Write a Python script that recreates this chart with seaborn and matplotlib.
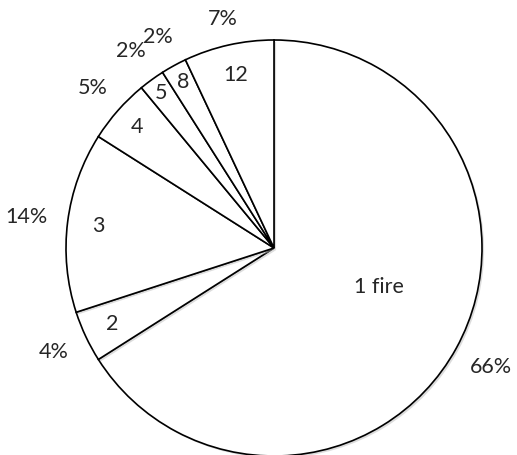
import numpy as np
import matplotlib
matplotlib.use("Agg")
import matplotlib.pyplot as plt
import matplotlib.patheffects as pe
import seaborn as sns

categories = ["1 fire", "2", "3", "4", "5", "8", "12"]
percent = [66, 4, 14, 5, 2, 2, 7]
pct_labels = ["66%", "4%", "14%", "5%", "2%", "2%", "7%"]

# label placement (styling)
inner_r = [0.54, 0.86, 0.85, 0.88, 0.92, 0.91, 0.85]
inner_shift = [8.4, 0, 0, 0, 0, 0, 0]
outer_r = [1.19, 1.17, 1.20, 1.16, 1.17, 1.16, 1.13]

sns.set_theme(style="white")
plt.rcParams['font.family'] = ['Lato', 'DejaVu Sans']

fig = plt.figure(figsize=(5.17, 4.55), dpi=100)
W, H = 517, 455
cx, cy, R = 274, 248, 208
ax = fig.add_axes([(cx - R) / W, (H - cy - R) / H, 2 * R / W, 2 * R / H])

wedges, _ = ax.pie(percent, startangle=90, counterclock=False, radius=1.0,
                   colors=["white"] * len(percent),
                   wedgeprops=dict(edgecolor="black", linewidth=1.2))
for w in wedges:
    w.set_path_effects([pe.SimplePatchShadow(offset=(1.5, -1.5), shadow_rgbFace="#bbbbbb", alpha=0.5), pe.Normal()])

fs = 15.5
for w, cat, pl, ri, sh, ro in zip(wedges, categories, pct_labels, inner_r, inner_shift, outer_r):
    midd = (w.theta1 + w.theta2) / 2
    mi = np.deg2rad(midd + sh)
    mo = np.deg2rad(midd)
    ax.text(ri * np.cos(mi), ri * np.sin(mi), cat, ha="center", va="center", fontsize=fs, color="#262626")
    ax.text(ro * np.cos(mo), ro * np.sin(mo), pl, ha="center", va="center", fontsize=fs, color="#262626")

ax.set_xlim(-1, 1)
ax.set_ylim(-1, 1)
ax.set_aspect("equal")
ax.axis("off")
fig.savefig("out.png", dpi=100, facecolor="white")
